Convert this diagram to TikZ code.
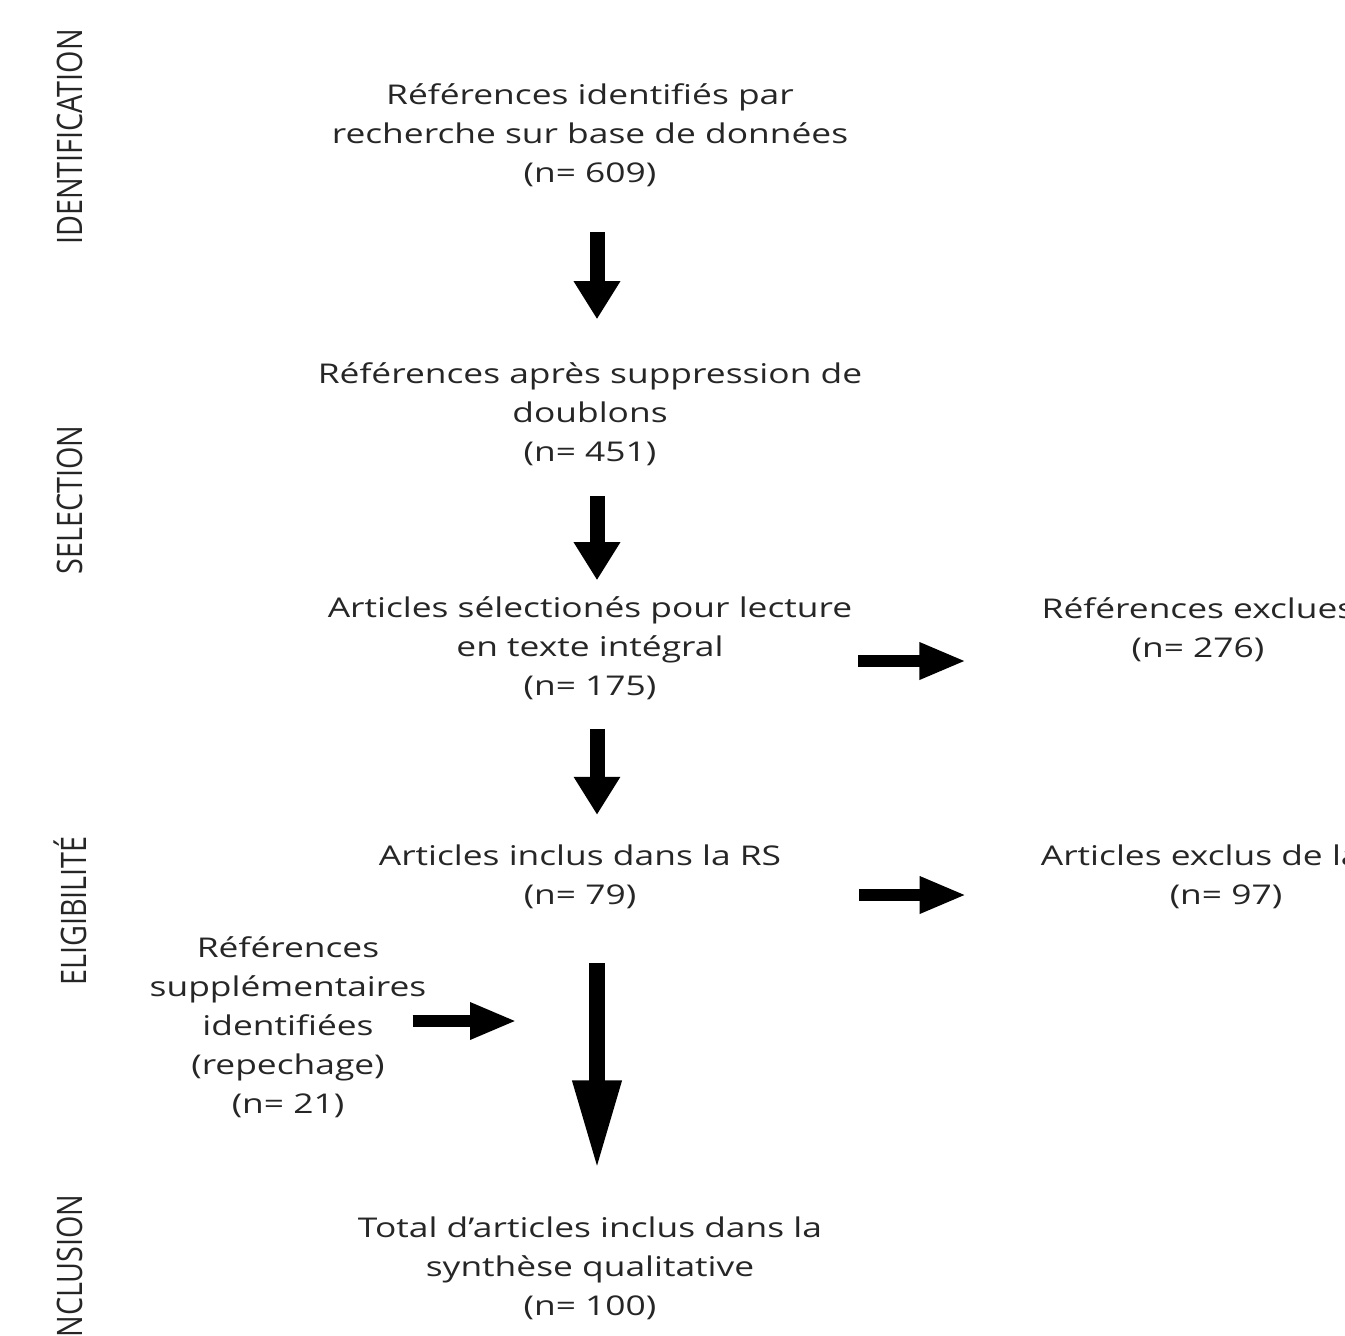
\documentclass[tikz,border=0pt]{standalone}
\usepackage{fontspec}
\setmainfont{Open Sans}
\usetikzlibrary{arrows.meta}
\colorlet{flow text}{black!85}
\tikzset{
  step text/.style={text=flow text, align=center, inner sep=0pt, xscale=1.3,
    font=\fontsize{27.2}{39}\selectfont},
  stage/.style={text=flow text, inner sep=0pt, rotate=90, xscale=1.065, yscale=1.3,
    font=\fontsize{27}{30}\selectfont},
  down arrow/.style={draw=black, line width=15pt, -{Triangle[width=44pt,length=38pt]}},
  long arrow/.style={draw=black, line width=16pt, -{Triangle[width=45pt,length=90pt]}},
  side arrow/.style={draw=black, line width=12pt, -{Triangle[width=34pt,length=47pt]}}
  }

\begin{document}
\begin{tikzpicture}[x=1pt,y=-1pt]
   \path[use as bounding box, clip] (0,0) rectangle (1345,1336);

   % stage labels on the left
   \node[stage] (lIdent) at (70,137) {IDENTIFICATION};
   \node[stage] (lSelect) at (70,500) {SELECTION};
   \node[stage] (lElig) at (70,911) {ELIGIBILITÉ};
   \node[stage] (lIncl) at (70,1270) {INCLUSION};

   % main column
   \node[step text] (ident) at (590,135) {Références identifiés par\\recherche sur base de données\\(n= 609)};
   \node[step text] (doublons) at (590,414) {Références après suppression de\\doublons\\(n= 451)};
   \node[step text] (lecture) at (590,648) {Articles sélectionés pour lecture\\en texte intégral\\(n= 175)};
   \node[step text] (inclus) at (580,877) {Articles inclus dans la RS\\(n= 79)};
   \node[step text] (total) at (590,1268) {Total d'articles inclus dans la\\synthèse qualitative\\(n= 100)};

   % side boxes
   \node[step text] (repechage) at (288,1027) {Références\\supplémentaires\\identifiées\\(repechage)\\(n= 21)};
   \node[step text] (exclues) at (1198,630) {Références exclues\\(n= 276)};
   \node[step text] (exclusRS) at (1226,877) {Articles exclus de la RS\\(n= 97)};

   \draw[down arrow, shorten <=45pt, shorten >=43pt] ([xshift=7pt]ident.south) -- ([xshift=7pt]ident.south |- doublons.north);
   \draw[down arrow, shorten <=30pt, shorten >=16pt] ([xshift=7pt]doublons.south) -- ([xshift=7pt]doublons.south |- lecture.north);
   \draw[down arrow, shorten <=29pt, shorten >=30pt] ([xshift=7pt]lecture.south) -- ([xshift=7pt]lecture.south |- inclus.north);
   \draw[long arrow, shorten <=54pt, shorten >=46pt] ([xshift=17pt]inclus.south) -- ([xshift=17pt]inclus.south |- total.north);

   % arrows to the right and from the left
   \coordinate (s1) at ([yshift=-13pt]lecture.east);
   \coordinate (s2) at ([yshift=-18pt]inclus.east);
   \coordinate (s3) at ([yshift=6pt]repechage.east);
   \coordinate (merge) at (597,1021);
   \draw[side arrow, shorten <=6pt, shorten >=75pt] (s1) -- (s1 -| exclues.west);
   \draw[side arrow, shorten <=78pt, shorten >=74pt] (s2) -- (s2 -| exclusRS.west);
   \draw[side arrow, shorten <=-14pt, shorten >=80pt] (s3) -- (merge);
\end{tikzpicture}
\end{document}
